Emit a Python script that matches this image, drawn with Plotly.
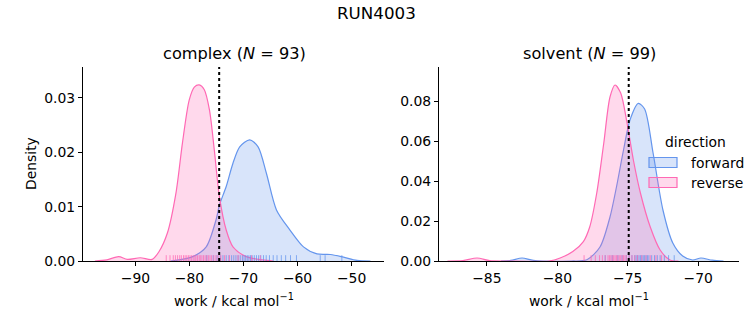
import plotly.graph_objects as go

# ---------------- data ----------------
# complex panel: KDE curves
cx_rev_x = [-97.5, -95.3, -93.1, -91.5, -89.1, -86.9, -85.65, -84.1, -82.5, -81.3, -80.05, -79.1, -78.2,
            -77.25, -76.3, -75.4, -74.45, -73.2, -71.95, -69.5, -66.4, -64.5]
cx_rev_y = [0.0, 0.0002, 0.0008, 0.0003, 0.0006, 0.0003, 0.0017, 0.0051, 0.0125, 0.0217, 0.0296, 0.032,
            0.0324, 0.0315, 0.0278, 0.0204, 0.0118, 0.0057, 0.0026, 0.0008, 0.0002, 0.0]
cx_fwd_x = [-83.5, -82.0, -79.4, -76.9, -75.1, -74.45, -73.2, -71.95, -70.7, -68.85, -67.3, -65.75, -63.9,
            -61.4, -58.9, -56.4, -53.9, -51.5, -49.0, -46.5]
cx_fwd_y = [0.0, 0.0002, 0.0008, 0.0026, 0.0075, 0.0103, 0.0137, 0.018, 0.021, 0.0223, 0.021, 0.0161,
            0.0094, 0.0057, 0.0026, 0.0013, 0.0012, 0.0007, 0.0001, 0.0]
cx_rev_rug = [-84.3, -83.6, -83.0, -82.6, -82.2, -81.8, -81.5, -81.1, -80.8, -80.5, -80.2, -79.9, -79.6,
              -79.3, -79.0, -78.8, -78.5, -78.2, -78.0, -77.7, -77.4, -77.1, -76.8, -76.5, -76.2, -75.9,
              -75.5, -75.1, -74.7, -74.2, -73.5, -72.6, -71.0, -68.5, -66.9]
cx_fwd_rug = [-76.8, -75.6, -74.9, -74.3, -73.8, -73.2, -72.7, -72.2, -71.8, -71.4, -71.0, -70.6, -70.2,
              -69.9, -69.6, -69.3, -69.0, -68.7, -68.4, -68.0, -67.6, -67.2, -66.8, -66.3, -65.8, -65.2,
              -64.5, -63.8, -63.0, -62.2, -61.3, -60.2, -55.8, -54.9, -51.8]
# solvent panel: KDE curves
sv_rev_x = [-87.8, -86.7, -85.7, -84.8, -83.5, -80.6, -79.8, -78.9, -78.15, -77.7, -77.2, -76.7, -76.26,
            -75.9, -75.5, -75.05, -74.6, -74.1, -73.4, -72.7, -72.0, -71.4]
sv_rev_y = [0.0, 0.0002, 0.0015, 0.0002, 0.0, 0.0, 0.0015, 0.0047, 0.0097, 0.017, 0.034, 0.059, 0.082,
            0.088, 0.084, 0.069, 0.0505, 0.034, 0.017, 0.0055, 0.0005, 0.0]
sv_fwd_x = [-84.0, -83.3, -82.5, -81.7, -79.0, -77.9, -76.97, -76.26, -75.8, -75.3, -74.84, -74.25, -73.8,
            -73.2, -72.5, -71.8, -71.1, -70.4, -69.8, -69.0, -68.2]
sv_fwd_y = [0.0, 0.0003, 0.0015, 0.0003, 0.0, 0.0006, 0.007, 0.022, 0.037, 0.0555, 0.0705, 0.0788, 0.076,
            0.054, 0.0255, 0.009, 0.0025, 0.0005, 0.0015, 0.0004, 0.0]
sv_rev_rug = [-78.1, -77.6, -77.3, -77.0, -76.8, -76.6, -76.4, -76.3, -76.2, -76.1, -76.0, -75.9, -75.8,
              -75.7, -75.6, -75.5, -75.4, -75.3, -75.2, -75.1, -74.9, -74.7, -74.5, -74.3, -74.0, -73.7,
              -73.4, -73.0, -72.6]
sv_fwd_rug = [-76.6, -76.1, -75.7, -75.4, -75.1, -74.9, -74.7, -74.5, -74.4, -74.3, -74.2, -74.1, -74.0,
              -73.9, -73.8, -73.7, -73.6, -73.5, -73.3, -73.1, -72.9, -72.7, -72.4, -72.1, -71.7]
cx_mark = -74.5
sv_mark = -74.93
panel_titles = ["complex (<i>N</i> = 93)", "solvent (<i>N</i> = 99)"]
legend_names = ["forward", "reverse"]

FWD = "#6495ED"
REV = "#FF69B4"
FWD_FILL = "rgba(100,149,237,0.25)"
REV_FILL = "rgba(255,105,180,0.25)"

fig = go.Figure()


def add_panel(xa, ya, fx, fy, rx, ry, frug, rrug, mark, ymax):
    for (x, y, col, fill, name) in [(fx, fy, FWD, FWD_FILL, "forward"), (rx, ry, REV, REV_FILL, "reverse")]:
        fig.add_trace(go.Scatter(x=x, y=y, mode="lines", line=dict(color=col, width=1.2, shape="spline", smoothing=0.8),
                                 fill="tozeroy", fillcolor=fill, name=name, showlegend=False,
                                 xaxis=xa, yaxis=ya))
    h = ymax * 0.03
    for rug, col in [(frug, "rgba(100,149,237,0.75)"), (rrug, "rgba(255,105,180,0.75)")]:
        xs, ys = [], []
        for v in rug:
            xs += [v, v, None]
            ys += [0, h, None]
        fig.add_trace(go.Scatter(x=xs, y=ys, mode="lines", line=dict(color=col, width=1), showlegend=False,
                                 hoverinfo="skip", xaxis=xa, yaxis=ya))
    fig.add_trace(go.Scatter(x=[mark, mark], y=[0, ymax], mode="lines", line=dict(color="black", width=2, dash="dot"),
                             showlegend=False, xaxis=xa, yaxis=ya))


add_panel("x", "y", cx_fwd_x, cx_fwd_y, cx_rev_x, cx_rev_y, cx_fwd_rug, cx_rev_rug, cx_mark, 0.0357)
add_panel("x2", "y2", sv_fwd_x, sv_fwd_y, sv_rev_x, sv_rev_y, sv_fwd_rug, sv_rev_rug, sv_mark, 0.097)

font = "DejaVu Sans"
FS = 13.9
axis_common = dict(showline=True, linecolor="black", linewidth=1, ticks="outside", ticklen=4, tickcolor="black",
                   showgrid=False, zeroline=False, tickfont=dict(size=FS, color="black", family=font),
                   mirror=False, automargin=False)

ydom = [64 / 325, 258 / 325]
xt = "work / kcal mol<sup>\u22121</sup>"

# manual legend (patch + label) in paper coords
shapes = []
annotations = []
for i, (name, col, fill) in enumerate(zip(legend_names, [FWD, REV], [FWD_FILL, REV_FILL])):
    yc = 162.5 + 20 * i
    shapes.append(dict(type="rect", xref="paper", yref="paper", x0=649 / 753, x1=677 / 753,
                       y0=1 - (yc + 5) / 325, y1=1 - (yc - 5) / 325, fillcolor=fill, line=dict(color=col, width=1.2)))
    annotations.append(dict(text=name, x=689 / 753, y=1 - yc / 325, xref="paper", yref="paper", showarrow=False,
                            font=dict(size=FS), xanchor="left", yanchor="middle"))
annotations.append(dict(text="direction", x=695 / 753, y=1 - 142 / 325, xref="paper", yref="paper",
                        showarrow=False, font=dict(size=FS), xanchor="center", yanchor="middle"))
annotations += [
    dict(text="RUN4003", x=0.5, y=1 - 13 / 325, xref="paper", yref="paper", showarrow=False,
         font=dict(size=16.7), xanchor="center", yanchor="middle"),
    dict(text=panel_titles[0], x=234 / 753, y=1 - 54 / 325, xref="paper", yref="paper", showarrow=False,
         font=dict(size=16.2), xanchor="center", yanchor="middle"),
    dict(text=panel_titles[1], x=589 / 753, y=1 - 54 / 325, xref="paper", yref="paper", showarrow=False,
         font=dict(size=16.2), xanchor="center", yanchor="middle"),
    dict(text="Density", x=31 / 753, y=1 - 164 / 325, xref="paper", yref="paper", showarrow=False,
         font=dict(size=FS), textangle=-90, xanchor="center", yanchor="middle"),
    dict(text=xt, x=234 / 753, y=1 - 300 / 325, xref="paper", yref="paper", showarrow=False,
         font=dict(size=FS), xanchor="center", yanchor="middle"),
    dict(text=xt, x=589 / 753, y=1 - 300 / 325, xref="paper", yref="paper", showarrow=False,
         font=dict(size=FS), xanchor="center", yanchor="middle"),
]

fig.update_layout(
    width=753, height=325, margin=dict(l=0, r=0, t=0, b=0),
    plot_bgcolor="white", paper_bgcolor="white",
    font=dict(family=font, size=FS, color="black"),
    xaxis=dict(domain=[83 / 753, 384 / 753], range=[-99.7, -44.0], anchor="y", tickvals=[-90, -80, -70, -60, -50],
               ticktext=["\u221290", "\u221280", "\u221270", "\u221260", "\u221250"], **axis_common),
    yaxis=dict(domain=ydom, range=[0, 0.0357], anchor="x", tickvals=[0, 0.01, 0.02, 0.03],
               ticktext=["0.00", "0.01", "0.02", "0.03"], **axis_common),
    xaxis2=dict(domain=[439 / 753, 739 / 753], range=[-88.4, -67.1], anchor="y2", tickvals=[-85, -80, -75, -70],
                ticktext=["\u221285", "\u221280", "\u221275", "\u221270"], **axis_common),
    yaxis2=dict(domain=ydom, range=[0, 0.097], anchor="x2", tickvals=[0, 0.02, 0.04, 0.06, 0.08],
                ticktext=["0.00", "0.02", "0.04", "0.06", "0.08"], **axis_common),
    showlegend=False,
    shapes=shapes,
    annotations=annotations,
)

fig.write_html("out.html")
